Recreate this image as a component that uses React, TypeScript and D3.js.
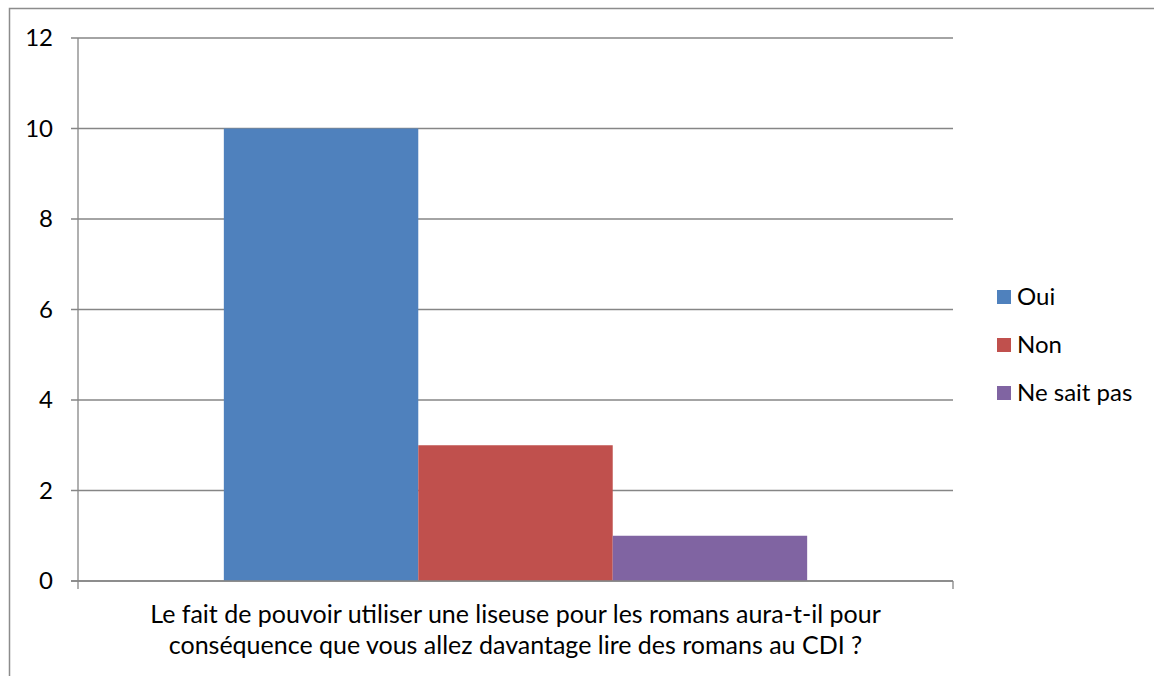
import { useEffect, useRef } from 'react';
import * as d3 from 'd3';

const categories = ['Le fait de pouvoir utiliser une liseuse pour les romans aura-t-il pour conséquence que vous allez davantage lire des romans au CDI ?'];
const categoryLines = [
  'Le fait de pouvoir utiliser une liseuse pour les romans aura-t-il pour',
  'conséquence que vous allez davantage lire des romans au CDI ?',
];
const seriesNames = ['Oui', 'Non', 'Ne sait pas'];
const seriesValues = [10, 3, 1];
const seriesColors = ['#4f81bd', '#c0504d', '#8064a2'];
const yTicks = [0, 2, 4, 6, 8, 10, 12];

const FONT = 'Lato, "Open Sans", sans-serif';

export default function App() {
  const ref = useRef<SVGSVGElement | null>(null);

  useEffect(() => {
    if (!ref.current) return;
    const svg = d3.select(ref.current);
    svg.selectAll('*').remove();

    const plot = { left: 78, right: 953, top: 38, bottom: 581 };

    // chart border
    svg.append('rect')
      .attr('x', 9.5).attr('y', 8.5)
      .attr('width', 1160).attr('height', 700)
      .attr('fill', 'white')
      .attr('stroke', '#8c8c8c')
      .attr('stroke-width', 1.5);

    const y = d3.scaleLinear().domain([0, 12]).range([plot.bottom, plot.top]);
    const x0 = d3.scaleBand()
      .domain(categories)
      .range([plot.left, plot.right])
      .paddingInner(0)
      .paddingOuter(0.25);
    const x1 = d3.scaleBand()
      .domain(seriesNames)
      .range([0, x0.bandwidth()])
      .padding(0);

    const g = svg.append('g');

    // gridlines
    g.append('g')
      .selectAll('line')
      .data(yTicks)
      .enter().append('line')
      .attr('x1', plot.left - 7)
      .attr('x2', plot.right)
      .attr('y1', d => y(d))
      .attr('y2', d => y(d))
      .attr('stroke', '#868686')
      .attr('stroke-width', 1.3);

    // y axis line
    g.append('line')
      .attr('x1', plot.left).attr('x2', plot.left)
      .attr('y1', plot.top).attr('y2', plot.bottom + 8)
      .attr('stroke', '#868686')
      .attr('stroke-width', 1.3);
    // right tick on category axis
    g.append('line')
      .attr('x1', plot.right).attr('x2', plot.right)
      .attr('y1', plot.bottom).attr('y2', plot.bottom + 8)
      .attr('stroke', '#868686')
      .attr('stroke-width', 1.3);

    // y tick labels
    g.append('g')
      .selectAll('text')
      .data(yTicks)
      .enter().append('text')
      .attr('x', 53)
      .attr('y', d => y(d))
      .attr('dy', '0.35em')
      .attr('text-anchor', 'end')
      .attr('font-family', FONT)
      .attr('font-size', 24)
      .attr('fill', '#000')
      .text(d => d);

    // bars
    const data = seriesNames.map((name, i) => ({ name, value: seriesValues[i], color: seriesColors[i] }));
    g.append('g')
      .attr('transform', `translate(${x0(categories[0])},0)`)
      .selectAll('rect')
      .data(data)
      .enter().append('rect')
      .attr('x', d => x1(d.name)!)
      .attr('width', x1.bandwidth())
      .attr('y', d => y(d.value))
      .attr('height', d => y(0) - y(d.value))
      .attr('fill', d => d.color);

    // redraw baseline over bars
    g.append('line')
      .attr('x1', plot.left - 7).attr('x2', plot.right)
      .attr('y1', y(0)).attr('y2', y(0))
      .attr('stroke', '#868686')
      .attr('stroke-width', 1.3);

    // category label
    const cx = x0(categories[0])! + x0.bandwidth() / 2;
    g.append('g')
      .selectAll('text')
      .data(categoryLines)
      .enter().append('text')
      .attr('x', cx)
      .attr('y', (_, i) => 623 + i * 31)
      .attr('text-anchor', 'middle')
      .attr('font-family', FONT)
      .attr('font-size', 25)
      .attr('fill', '#000')
      .text(d => d);

    // legend
    const legend = g.append('g')
      .selectAll('g')
      .data(data)
      .enter().append('g')
      .attr('transform', (_, i) => `translate(997,${297 + i * 48})`);
    legend.append('rect')
      .attr('x', 0).attr('y', -7)
      .attr('width', 14).attr('height', 14)
      .attr('fill', d => d.color);
    legend.append('text')
      .attr('x', 20)
      .attr('y', 0)
      .attr('dy', '0.35em')
      .attr('font-family', FONT)
      .attr('font-size', 24)
      .attr('fill', '#000')
      .text(d => d.name);
  }, []);

  return (
    <svg
      ref={ref}
      width={1154}
      height={676}
      style={{ position: 'absolute', left: 0, top: 0, display: 'block' }}
    />
  );
}
